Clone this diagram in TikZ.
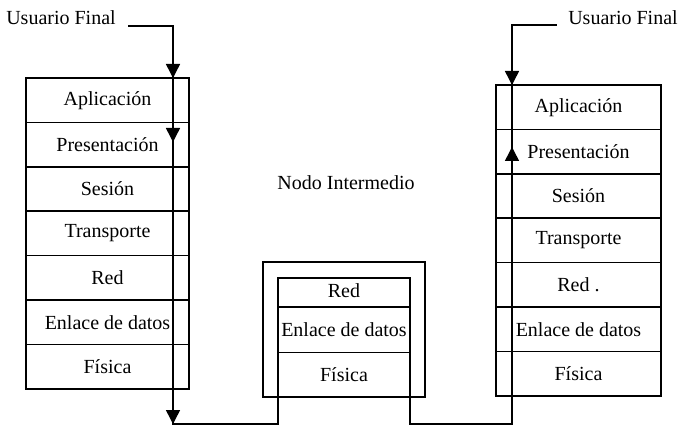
\documentclass[tikz,border=0pt]{standalone}
\usepackage{fontspec}
\setmainfont{Liberation Serif}
\usetikzlibrary{positioning,arrows.meta}

\tikzset{
  capa/.style={draw, line width=1.5pt, outer sep=0pt, inner sep=0pt, minimum height=44.4pt},
  linea/.style={line width=1.5pt},
  flecha/.style={line width=1.5pt, -{Triangle[width=14pt,length=14pt]}}
}

\begin{document}
\begin{tikzpicture}[x=1pt, y=1pt, font=\fontsize{20}{24}\selectfont]
        \useasboundingbox (0,0) rectangle (680,426);

        % pila del usuario de la izquierda
        \node[capa, minimum width=163pt, anchor=north] (A1) at (107.5,348) {Aplicación};
        \node[capa, minimum width=163pt, below=0pt of A1] (A2) {Presentación};
        \node[capa, minimum width=163pt, below=0pt of A2] (A3) {Sesión};
        \node[capa, minimum width=163pt, below=0pt of A3] (A4) {Transporte};
        \node[capa, minimum width=163pt, below=0pt of A4] (A5) {Red};
        \node[capa, minimum width=163pt, below=0pt of A5] (A6) {Enlace de datos};
        \node[capa, minimum width=163pt, below=0pt of A6] (A7) {Física};

        % nodo intermedio
        \node[draw, linea, minimum width=162pt, minimum height=135pt] (M) at (344,96.5) {};
        \node[capa, minimum width=132pt, minimum height=29pt, anchor=north] (B1) at (344,148) {\raisebox{3pt}{Red}};
        \node[capa, minimum width=132pt, minimum height=45.5pt, below=0pt of B1] (B2) {Enlace de datos};
        \node[capa, minimum width=132pt, below=0pt of B2] (B3) {Física};
        \node (N) at (346,243) {Nodo Intermedio};

        % pila del usuario de la derecha
        \node[capa, minimum width=165pt, anchor=north] (C1) at (578.5,341) {Aplicación};
        \node[capa, minimum width=165pt, below=0pt of C1] (C2) {Presentación};
        \node[capa, minimum width=165pt, below=0pt of C2] (C3) {Sesión};
        \node[capa, minimum width=165pt, below=0pt of C3] (C4) {Transporte};
        \node[capa, minimum width=165pt, below=0pt of C4] (C5) {Red .};
        \node[capa, minimum width=165pt, below=0pt of C5] (C6) {Enlace de datos};
        \node[capa, minimum width=165pt, below=0pt of C6] (C7) {Física};

        \node (U1) at (61,408) {Usuario Final};
        \node (U2) at (623,408) {Usuario Final};

        \coordinate (u1) at (128,400);
        \coordinate (p1) at (173,2);
        \coordinate (f1) at (173,284);
        \coordinate (u2) at (557,401);
        \coordinate (p2) at (512,2);
        \coordinate (f2) at (512,279);

        \draw[linea] (u1) -| (p1) -| (B3.south west);
        \draw[linea] (B3.south east) |- (p2) |- (u2);

        \draw[flecha] (u1 -| p1) -- (A1.north -| p1);
        \draw[flecha] (A2.north -| p1) -- (f1);
        \draw[flecha] (A7.south -| p1) -- (p1);
        \draw[flecha] (u2 -| p2) -- (C1.north -| p2);
        \draw[flecha] (C2.south -| p2) -- (f2);
\end{tikzpicture}
\end{document}
